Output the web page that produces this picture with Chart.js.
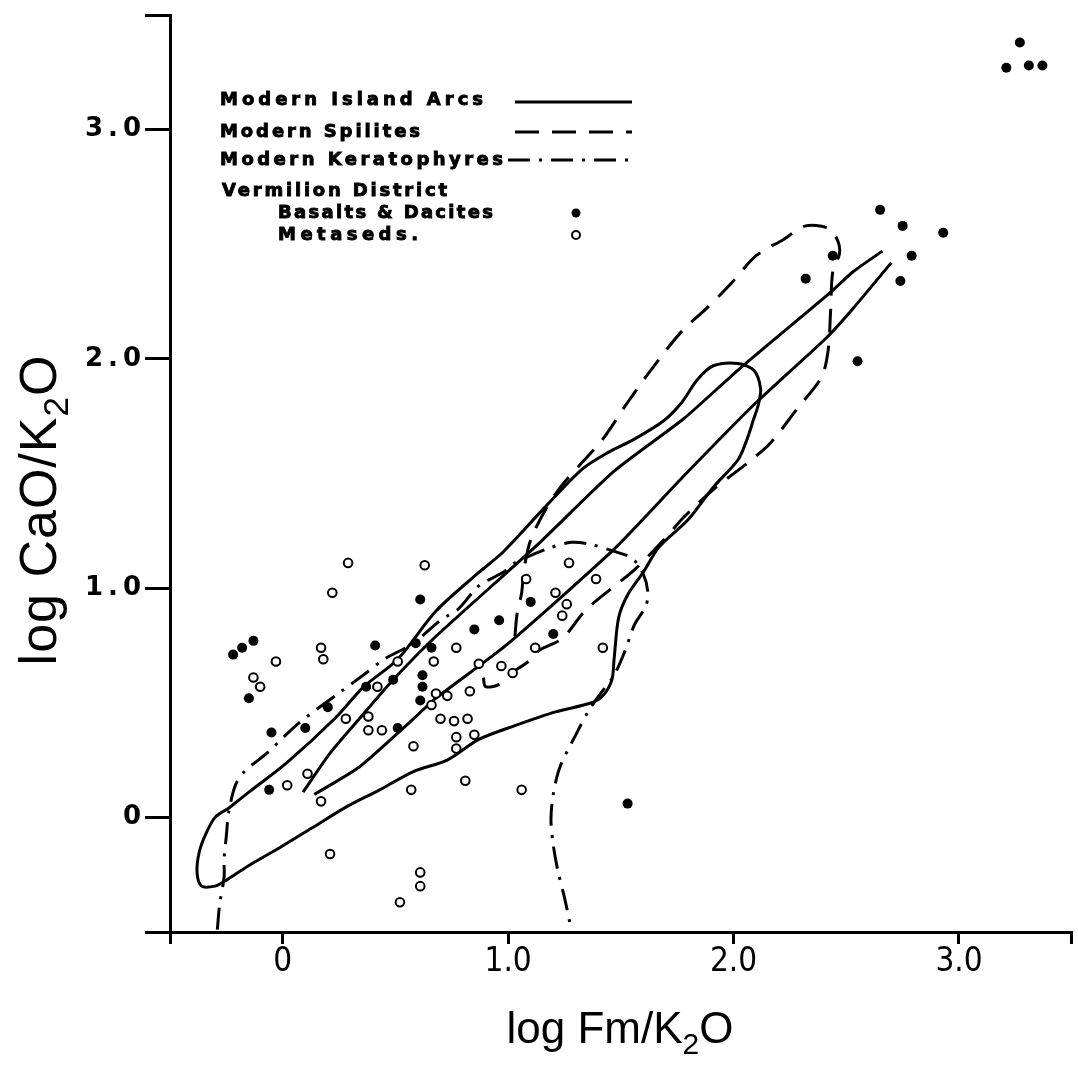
<!DOCTYPE html>
<html>
<head>
<meta charset="utf-8">
<script src="https://cdn.jsdelivr.net/npm/chart.js@4.4.1/dist/chart.umd.min.js"></script>
<style>
html,body{margin:0;padding:0;background:#fff;}
canvas{display:block;}
</style>
</head>
<body>
<canvas id="c" width="1078" height="1067"></canvas>
<script>
// axis ticks
var xTickValues=[0,1,2,3];
var xTickLabels=['0','1.0','2.0','3.0'];
var yTickValues=[0,1,2,3];
var yTickLabels=['0','1.0','2.0','3.0'];

// Modern Island Arcs: envelope (closed) and two trend lines
var arcEnvX=[-0.24,-0.15,0.02,0.23,0.36,0.51,0.68,0.86,0.98,1.17,1.33,1.44,1.56,1.69,1.77,1.84,1.91,2.02,2.09,2.12,2.11,2.09,2.06,2.02,1.91,1.80,1.67,1.60,1.53,1.49,1.47,1.46,1.42,1.37,1.21,1.03,0.87,0.73,0.58,0.43,0.29,0.14,-0.01,-0.15,-0.26,-0.30,-0.36,-0.38,-0.37,-0.34,-0.30,-0.24];
var arcEnvY=[0.04,0.11,0.24,0.43,0.57,0.69,0.90,1.06,1.16,1.36,1.52,1.59,1.65,1.73,1.81,1.91,1.97,1.98,1.95,1.87,1.80,1.74,1.65,1.56,1.44,1.30,1.18,1.07,0.97,0.87,0.69,0.60,0.53,0.50,0.46,0.40,0.34,0.25,0.20,0.12,0.05,-0.04,-0.13,-0.21,-0.28,-0.30,-0.30,-0.24,-0.15,-0.07,0.00,0.04];
var arcLineAX=[0.09,0.21,0.34,0.49,0.68,1.12,1.47,1.78,2.03,2.43,2.53,2.66];
var arcLineAY=[0.11,0.28,0.43,0.60,0.79,1.18,1.51,1.74,1.96,2.29,2.38,2.47];
var arcLineBX=[0.14,0.34,0.58,0.68,0.99,1.47,1.78,2.09,2.41,2.53,2.70];
var arcLineBY=[0.10,0.22,0.43,0.52,0.75,1.17,1.49,1.80,2.09,2.22,2.42];

// Modern Spilites
var spilX=[0.89,0.90,0.96,1.00,1.09,1.14,1.24,1.34,1.46,1.56,1.69,1.78,1.91,2.08,2.17,2.28,2.39,2.42,2.43,2.44,2.47,2.46,2.42,2.32,2.22,2.10,1.99,1.88,1.77,1.64,1.53,1.42,1.33,1.24,1.17,1.10,1.07,1.06,1.04,1.03];
var spilY=[0.61,0.57,0.58,0.62,0.68,0.73,0.78,0.90,1.00,1.08,1.21,1.31,1.43,1.56,1.64,1.78,1.92,2.04,2.20,2.38,2.46,2.52,2.57,2.58,2.52,2.45,2.33,2.22,2.12,1.96,1.81,1.65,1.55,1.45,1.35,1.21,1.08,0.98,0.89,0.79];

// Modern Keratophyres
var keraX=[-0.29,-0.28,-0.26,-0.26,-0.25,-0.24,-0.21,-0.17,-0.07,0.07,0.26,0.37,0.45,0.58,0.70,0.78,0.87,0.98,1.03,1.17,1.28,1.37,1.47,1.55,1.60,1.62,1.61,1.56,1.52,1.47,1.41,1.36,1.30,1.23,1.20,1.19,1.20,1.22,1.25,1.28];
var keraY=[-0.49,-0.38,-0.26,-0.18,-0.08,0.02,0.14,0.20,0.28,0.41,0.55,0.63,0.69,0.76,0.86,0.91,1.01,1.07,1.11,1.17,1.20,1.19,1.16,1.13,1.06,0.98,0.92,0.84,0.73,0.62,0.54,0.47,0.36,0.22,0.10,-0.01,-0.12,-0.23,-0.35,-0.49];

// Vermilion District: Basalts & Dacites (filled)
var basX=[3.27,3.21,3.31,3.37,2.65,2.75,2.93,2.79,2.74,2.44,2.32,2.55,1.53,0.61,-0.22,-0.18,-0.13,-0.15,0.41,0.59,0.66,0.62,0.62,0.61,0.37,0.49,0.20,0.10,-0.05,0.51,-0.06,0.85,0.96,1.10,1.20];
var basY=[3.38,3.27,3.28,3.28,2.65,2.58,2.55,2.45,2.34,2.45,2.35,1.99,0.06,0.95,0.71,0.74,0.77,0.52,0.75,0.76,0.74,0.62,0.57,0.51,0.57,0.60,0.48,0.39,0.37,0.39,0.12,0.82,0.86,0.94,0.80];

// Vermilion District: Metaseds. (open)
var metX=[0.29,0.63,0.22,0.17,0.18,-0.03,-0.13,-0.10,0.51,0.67,0.77,0.87,0.97,1.02,0.42,0.68,0.73,0.83,0.28,0.38,0.38,0.44,0.66,0.70,0.76,0.82,0.77,0.85,0.58,0.77,0.11,0.02,0.17,0.81,0.57,1.06,0.21,0.61,0.61,0.52,1.27,1.39,1.21,1.26,1.24,1.12,1.42,1.08];
var metY=[1.11,1.10,0.98,0.74,0.69,0.68,0.61,0.57,0.68,0.68,0.74,0.67,0.66,0.63,0.57,0.54,0.53,0.55,0.43,0.44,0.38,0.38,0.49,0.43,0.42,0.43,0.35,0.36,0.31,0.30,0.19,0.14,0.07,0.16,0.12,0.12,-0.16,-0.24,-0.30,-0.37,1.11,1.04,0.98,0.93,0.88,0.74,0.74,1.04];

var legendTexts=['Modern Island Arcs','Modern Spilites','Modern Keratophyres','Vermilion District','Basalts & Dacites','Metaseds.'];

var DASH_SPIL=[24,13];
var DASH_KERA=[22,9,3,9];

function pts(xs,ys){
  var out=[];
  for(var i=0;i<xs.length;i++) out.push({x:xs[i],y:ys[i]});
  return out;
}
function lineDs(label,xs,ys,dash,tension){
  return {label:label,type:'line',data:pts(xs,ys),borderColor:'#000',borderWidth:3,
    borderDash:dash,pointRadius:0,fill:false,tension:tension,order:2};
}

// legend text, stretched to the width it has in the figure and thickened a bit
function spacedText(ctx,text,x,y,width){
  ctx.letterSpacing='0px';
  var w=ctx.measureText(text).width;
  var ls=(width-w)/(text.length-1);
  ctx.letterSpacing=ls+'px';
  ctx.fillText(text,x,y);
  ctx.lineWidth=0.9;
  ctx.strokeText(text,x,y);
  ctx.letterSpacing='0px';
}
function subText(ctx,parts,cx,cy,rot,ls){
  ctx.save();
  ctx.translate(cx,cy);
  if(rot) ctx.rotate(-Math.PI/2);
  ctx.textAlign='left';ctx.textBaseline='alphabetic';
  ctx.letterSpacing=ls+'px';
  var total=0;
  parts.forEach(function(p){ctx.font=p.f;total+=ctx.measureText(p.t).width;});
  var x=-total/2;
  parts.forEach(function(p){ctx.font=p.f;ctx.fillText(p.t,x,p.dy);x+=ctx.measureText(p.t).width;});
  ctx.restore();
}

var decor={
  id:'decor',
  beforeDraw:function(chart){chart.ctx.letterSpacing='0px';},
  // y tick labels (z:1) are drawn after the datasets, with wider spacing
  afterDatasetsDraw:function(chart){chart.ctx.letterSpacing='5px';},
  afterDraw:function(chart){
    var ctx=chart.ctx;
    ctx.save();
    ctx.letterSpacing='0px';
    ctx.fillStyle='#000';ctx.strokeStyle='#000';
    // axis titles
    var big='44px "Liberation Sans", Arial, sans-serif';
    var sm='30px "Liberation Sans", Arial, sans-serif';
    subText(ctx,[{t:'log Fm/K',f:big,dy:0},{t:'2',f:sm,dy:11},{t:'O',f:big,dy:0}],620,1043,false,0);
    var bigY='52px "Liberation Sans", Arial, sans-serif';
    var smY='35px "Liberation Sans", Arial, sans-serif';
    subText(ctx,[{t:'log CaO/K',f:bigY,dy:0},{t:'2',f:smY,dy:12},{t:'O',f:bigY,dy:0}],56,510,true,1);
    // legend
    ctx.font='bold 18px "DejaVu Sans", Arial, sans-serif';
    ctx.textAlign='left';ctx.textBaseline='alphabetic';
    spacedText(ctx,legendTexts[0],220,105,263);
    spacedText(ctx,legendTexts[1],220,137,200);
    spacedText(ctx,legendTexts[2],220,165,283);
    spacedText(ctx,legendTexts[3],222,196,225);
    spacedText(ctx,legendTexts[4],278,218,215);
    spacedText(ctx,legendTexts[5],278,240,140);
    ctx.lineWidth=3;
    var samples=[[515,632,102,[]],[515,632,132,DASH_SPIL],[508,630,160,DASH_KERA]];
    samples.forEach(function(s){
      ctx.setLineDash(s[3]);
      ctx.beginPath();ctx.moveTo(s[0],s[2]);ctx.lineTo(s[1],s[2]);ctx.stroke();
    });
    ctx.setLineDash([]);
    ctx.beginPath();ctx.arc(576,213,4.5,0,Math.PI*2);ctx.fill();
    ctx.lineWidth=2;
    ctx.beginPath();ctx.arc(576,235,4,0,Math.PI*2);ctx.fillStyle='#fff';ctx.fill();ctx.stroke();
    ctx.restore();
  }
};

function tickSet(scale){
  scale.ticks=[-0.5,0,1,2,3,3.5].map(function(v){return {value:v};});
}
function xLabel(v){var i=xTickValues.indexOf(v);return i<0?'':xTickLabels[i];}
function yLabel(v){var i=yTickValues.indexOf(v);return i<0?'':yTickLabels[i];}

new Chart(document.getElementById('c'),{
  type:'scatter',
  data:{datasets:[
    lineDs('Modern Island Arcs',arcEnvX,arcEnvY,[],0.3),
    lineDs('Island Arcs A',arcLineAX,arcLineAY,[],0.2),
    lineDs('Island Arcs B',arcLineBX,arcLineBY,[],0.2),
    lineDs('Modern Spilites',spilX,spilY,DASH_SPIL,0.3),
    lineDs('Modern Keratophyres',keraX,keraY,DASH_KERA,0.3),
    {label:'Basalts & Dacites',data:pts(basX,basY),pointRadius:5,pointBackgroundColor:'#000',pointBorderColor:'#000',pointBorderWidth:0,order:1},
    {label:'Metaseds.',data:pts(metX,metY),pointRadius:4.3,pointBackgroundColor:'#fff',pointBorderColor:'#000',pointBorderWidth:2,order:1}
  ]},
  options:{
    responsive:false,animation:false,devicePixelRatio:1,
    layout:{padding:{top:15,right:3,left:0,bottom:0}},
    plugins:{legend:{display:false},tooltip:{enabled:false}},
    scales:{
      x:{type:'linear',min:-0.5,max:3.5,
        afterBuildTicks:tickSet,
        afterFit:function(s){s.height=135;},
        border:{display:true,color:'#000',width:3},
        grid:{drawOnChartArea:false,drawTicks:true,tickLength:12,color:'#000',lineWidth:3},
        ticks:{color:'#000',padding:2,autoSkip:false,maxRotation:0,callback:xLabel,
          font:{family:'"Liberation Sans Narrow","DejaVu Sans Condensed","Liberation Sans",sans-serif',size:33,lineHeight:1}}
      },
      y:{type:'linear',min:-0.5,max:3.5,
        afterBuildTicks:tickSet,
        afterFit:function(s){s.width=170;},
        border:{display:true,color:'#000',width:3},
        grid:{drawOnChartArea:false,drawTicks:true,tickLength:25,color:'#000',lineWidth:3},
        ticks:{color:'#000',padding:-1,z:1,autoSkip:false,callback:yLabel,
          font:{family:'"DejaVu Sans","Liberation Sans",sans-serif',size:26,weight:'bold',lineHeight:1}}
      }
    }
  },
  plugins:[decor]
});
</script>
</body>
</html>
